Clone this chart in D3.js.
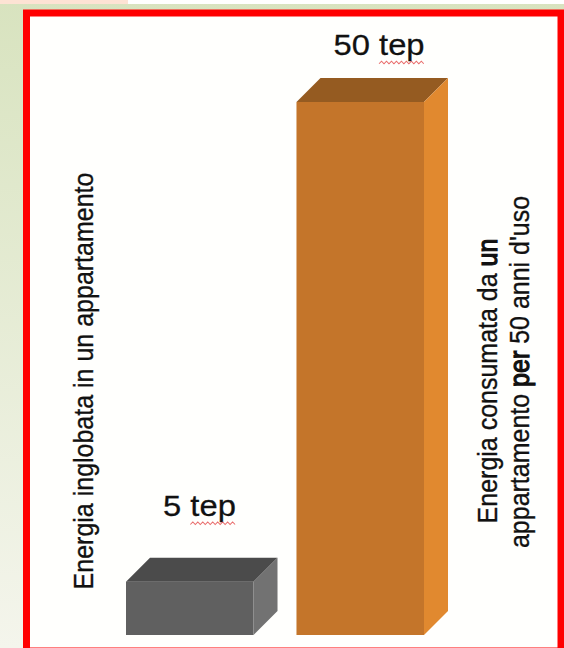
<!DOCTYPE html>
<html>
<head>
<meta charset="utf-8">
<script src="https://cdn.jsdelivr.net/npm/d3@7"></script>
<style>
  html, body { margin: 0; padding: 0; background: #ffffff; }
  svg { display: block; }
  text { font-family: "Liberation Sans", Arial, sans-serif; fill: #111111; }
</style>
</head>
<body>
<svg id="chart" width="564" height="648"></svg>
<script>
// ---- data ----
const categories = ["inglobata", "consumata"];
const categoryLines = [
  ["Energia inglobata in un appartamento"],
  ["Energia consumata da un", "appartamento per 50 anni d'uso"]
];
const values = [5, 50];
const valueText = ["5", "50"];
const unitText = "tep";
const emphasisWords = [[], ["un", "per"]];

// ---- styling / layout ----
const W = 564, H = 648;
const depth = 24;
const faces = [
  { front: "#606060", top: "#4b4b4b", side: "#727272" },
  { front: "#c4752a", top: "#955b21", side: "#e1892f" }
];
const labelFont = 29, labelStretch = 1.13, labelInset = 37;
const labelLift = [42, 23];
const catFont = 25, catTall = 1.1, catLineGap = 29, catCenterY = 381;
const catLineShift = [0, 9];

const svg = d3.select("#chart");
const defs = svg.append("defs");

const bg = defs.append("linearGradient").attr("id", "bg")
  .attr("x1", 0).attr("y1", 0).attr("x2", 0).attr("y2", 1);
bg.append("stop").attr("offset", "0%").attr("stop-color", "#d8e3bf");
bg.append("stop").attr("offset", "100%").attr("stop-color", "#f4f5ec");

// slide background
svg.append("rect").attr("width", W).attr("height", H).attr("fill", "url(#bg)");
svg.append("rect").attr("x", 0).attr("y", 0).attr("width", W).attr("height", 4).attr("fill", "#ffffff");
svg.append("rect").attr("x", 0).attr("y", 0).attr("width", 128).attr("height", 4).attr("fill", "#fde3d4");

// framed white panel
svg.append("rect")
  .attr("x", 26.5).attr("y", 13)
  .attr("width", 534.5).attr("height", 638)
  .attr("fill", "#fffffd")
  .attr("stroke", "#ff0000").attr("stroke-width", 7);

// ---- scales ----
const x = d3.scaleBand().domain(categories).range([126, 424]).paddingInner(0.252).paddingOuter(0);
const y = d3.scaleLinear().domain([0, 50]).range([635, 102]);
const bw = x.bandwidth();

const rows = categories.map((c, i) => ({ c, i, v: values[i] }));

// ---- 3D boxes ----
const bars = svg.append("g").selectAll("g.bar").data(rows).join("g").attr("class", "bar");

bars.append("rect")
  .attr("x", d => x(d.c)).attr("y", d => y(d.v))
  .attr("width", bw).attr("height", d => y(0) - y(d.v))
  .attr("fill", d => faces[d.i].front);

bars.append("path")
  .attr("d", d => {
    const x0 = x(d.c), x1 = x0 + bw, yt = y(d.v);
    return `M${x0},${yt}L${x0 + depth},${yt - depth}L${x1 + depth},${yt - depth}L${x1},${yt}Z`;
  })
  .attr("fill", d => faces[d.i].top);

bars.append("path")
  .attr("d", d => {
    const x1 = x(d.c) + bw, yt = y(d.v), yb = y(0);
    return `M${x1},${yt}L${x1 + depth},${yt - depth}L${x1 + depth},${yb - depth}L${x1},${yb}Z`;
  })
  .attr("fill", d => faces[d.i].side);

// ---- value labels ----
const vl = svg.append("g").selectAll("g.vlabel").data(rows).join("g")
  .attr("class", "vlabel")
  .attr("transform", d => `translate(${x(d.c) + labelInset},${y(d.v) - depth - labelLift[d.i]}) scale(${labelStretch},1)`);

vl.append("text")
  .attr("font-size", labelFont)
  .attr("stroke", "#111111").attr("stroke-width", 0.25)
  .text(d => `${valueText[d.i]} ${unitText}`);

// spell-check squiggle under the unit
vl.each(function(d) {
  const g = d3.select(this);
  const t = g.select("text").node();
  const start = valueText[d.i].length + 1;
  const x0 = t.getSubStringLength(0, start);
  const w = t.getSubStringLength(start, unitText.length);
  const pts = [];
  const step = 2.2;
  for (let k = 0; k * step <= w; k++) pts.push([x0 + k * step, 7.5 + (k % 2 ? -1.3 : 1.3)]);
  g.append("path")
    .attr("d", d3.line()(pts))
    .attr("fill", "none")
    .attr("stroke", "#e23c3c")
    .attr("stroke-width", 0.9)
    .attr("opacity", 0.75);
});

// ---- category labels (rotated) ----
function catAnchorX(i) {
  return i === 0 ? x(categories[0]) - 33 : x(categories[1]) + bw + depth + 49;
}

rows.forEach(d => {
  const g = svg.append("g")
    .attr("transform", `translate(${catAnchorX(d.i)},${catCenterY}) rotate(-90) scale(1,${catTall})`);
  const t = g.append("text")
    .attr("font-size", catFont)
    .attr("text-anchor", "middle")
    .attr("stroke", "#111111").attr("stroke-width", 0.3);
  categoryLines[d.i].forEach((line, li) => {
    const words = line.split(" ");
    words.forEach((wd, wi) => {
      const ts = t.append("tspan").text(wd + (wi < words.length - 1 ? " " : ""));
      if (wi === 0) ts.attr("x", catLineShift[li]).attr("y", li * catLineGap);
      if (emphasisWords[d.i].includes(wd)) ts.attr("stroke-width", 1.1);
    });
  });
});
</script>
</body>
</html>
